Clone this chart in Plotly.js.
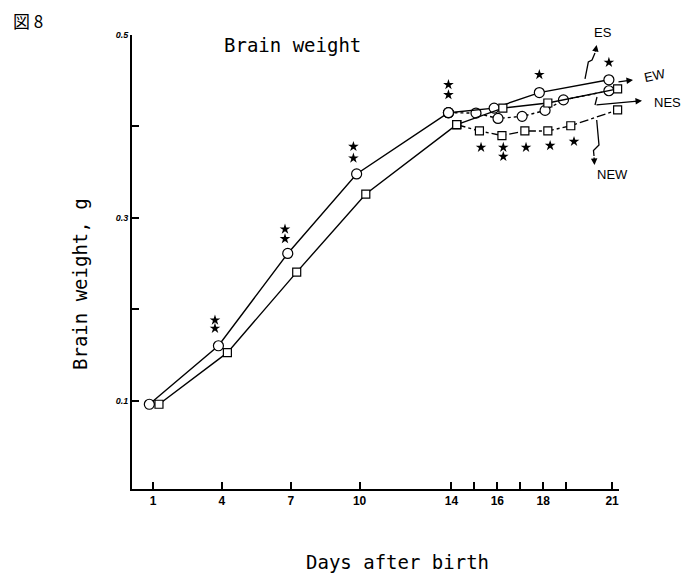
<!DOCTYPE html>
<html>
<head>
<meta charset="utf-8">
<script src="https://cdn.plot.ly/plotly-3.0.1.min.js"></script>
<style>html,body{margin:0;padding:0;background:#fff;}#chart{width:682px;height:580px;}</style>
</head>
<body>
<div id="chart"></div>
<script>
// ---- data (days after birth, brain weight in g) ----
const eDays    = [0.84, 3.85, 6.87, 9.87, 13.87];
const eWeight  = [0.096, 0.160, 0.261, 0.348, 0.415];
const nDays    = [1.26, 4.24, 7.26, 10.27, 14.23];
const nWeight  = [0.096, 0.1525, 0.2406, 0.326, 0.402];

const esDays   = [13.87, 15.86, 17.83, 20.86];
const esWeight = [0.415, 0.420, 0.437, 0.451];
const ewDays   = [13.87, 15.07, 16.03, 17.08, 18.08, 18.88, 20.86];
const ewWeight = [0.415, 0.4146, 0.4087, 0.411, 0.4175, 0.429, 0.439];

const nesDays   = [14.23, 16.24, 18.2, 21.24];
const nesWeight = [0.402, 0.420, 0.4256, 0.441];
const newDays   = [14.23, 15.22, 16.2, 17.2, 18.2, 19.2, 21.24];
const newWeight = [0.402, 0.395, 0.390, 0.395, 0.395, 0.4007, 0.418];

const starDays = [3.7, 3.7, 6.75, 6.75, 9.73, 9.73, 13.87, 13.87, 17.83, 20.86,
                  15.29, 16.26, 16.26, 17.25, 18.3, 19.34, 21.32];
const starY    = [0.188, 0.179, 0.2876, 0.277, 0.378, 0.3653, 0.4456, 0.4346, 0.4566, 0.470,
                  0.377, 0.377, 0.367, 0.377, 0.379, 0.3835, 0.400];

const xTickVals = [1, 4, 7, 10, 14, 15, 16, 17, 18, 19, 21];
const xTickText = ['1', '4', '7', '10', '14', '', '16', '', '18', '', '21'];
const yTickVals = [0.1, 0.2, 0.3, 0.4, 0.5];
const yTickText = ['0.1', '', '0.3', '', '0.5'];

// ---- layout helpers ----
const L = 132, T = 35, W = 487, H = 454;
const px = v => (v - L) / W;          // pixel x -> paper
const py = v => (T + H - v) / H;      // pixel y -> paper

function series(x, y, symbol, dash, size) {
  return {
    x: x, y: y, type: 'scatter', mode: 'lines+markers', cliponaxis: false,
    line: {color: '#000', width: 1.4, dash: dash},
    marker: {symbol: symbol, size: size, color: '#fff', line: {color: '#000', width: 1.2}},
    hoverinfo: 'skip', showlegend: false
  };
}

const traces = [
  series(eDays, eWeight, 'circle', 'solid', 10),
  series(nDays, nWeight, 'square', 'solid', 8),
  series(ewDays, ewWeight, 'circle', 'dot', 10),
  series(newDays, newWeight, 'square', 'dashdot', 8),
  series(esDays, esWeight, 'circle', 'solid', 10),
  series(nesDays, nesWeight, 'square', 'solid', 8),
  {
    x: starDays, y: starY, type: 'scatter', mode: 'markers', cliponaxis: false,
    marker: {symbol: 'star', size: 8, color: '#000'}, hoverinfo: 'skip', showlegend: false
  }
];

const lblFont = {family: 'Liberation Sans, Arial, sans-serif', size: 13, color: '#000'};
const monoFont = {family: 'DejaVu Sans Mono, monospace', size: 19, color: '#000'};

function arrow(hx, hy, tx, ty) {
  return {xref: 'paper', yref: 'paper', x: px(hx), y: py(hy), ax: tx - hx, ay: ty - hy,
          text: '', showarrow: true, arrowhead: 2, arrowsize: 1, arrowwidth: 1.3, arrowcolor: '#000'};
}
function label(text, x, y, angle) {
  return {xref: 'paper', yref: 'paper', x: px(x), y: py(y), text: text, showarrow: false,
          xanchor: 'center', yanchor: 'middle', font: lblFont, textangle: angle || 0};
}
function pathPx(pts) {
  return pts.map((p, i) => (i ? 'L' : 'M') + px(p[0]).toFixed(4) + ',' + py(p[1]).toFixed(4)).join(' ');
}

const layout = {
  width: 682, height: 580,
  margin: {l: L, r: 682 - L - W, t: T, b: 580 - T - H, pad: 0},
  paper_bgcolor: '#fff', plot_bgcolor: '#fff',
  title: {text: 'Brain weight', font: monoFont, x: 224 / 682, xanchor: 'left',
          y: 1 - 45 / 580, yanchor: 'middle', xref: 'container', yref: 'container'},
  xaxis: {
    range: [0.085, 21.3], showgrid: false, zeroline: false,
    showline: true, linecolor: '#000', linewidth: 2,
    ticks: 'inside', ticklen: 7, tickwidth: 2, tickcolor: '#000',
    tickmode: 'array', tickvals: xTickVals, ticktext: xTickText,
    tickfont: {family: 'Liberation Sans, Arial, sans-serif', size: 12, weight: 'bold', color: '#000'}
  },
  yaxis: {
    range: [0.0033, 0.5], showgrid: false, zeroline: false,
    showline: true, linecolor: '#000', linewidth: 2,
    ticks: 'inside', ticklen: 7, tickwidth: 2, tickcolor: '#000',
    tickmode: 'array', tickvals: yTickVals, ticktext: yTickText,
    tickfont: {family: 'Liberation Sans, Arial, sans-serif', size: 9, style: 'italic', weight: 'bold', color: '#000'}
  },
  annotations: [
    {xref: 'paper', yref: 'paper', x: px(80), y: py(284), text: 'Brain weight, g', textangle: -90,
     showarrow: false, xanchor: 'center', yanchor: 'middle', font: monoFont},
    {xref: 'paper', yref: 'paper', x: px(397), y: py(562), text: 'Days after birth',
     showarrow: false, xanchor: 'center', yanchor: 'middle', font: monoFont},
    {xref: 'paper', yref: 'paper', x: px(11), y: py(20), text: '図 8', showarrow: false,
     xanchor: 'left', yanchor: 'middle',
     font: {family: 'Noto Sans CJK JP, sans-serif', size: 17, color: '#000'}},
    label('ES', 603, 33),
    label('EW', 655, 75, -12),
    label('NES', 667, 102),
    label('NEW', 612, 175),
    arrow(633, 80, 617, 82),
    arrow(642, 100.7, 595, 105),
    arrow(596.7, 45, 595, 53),
    arrow(594.5, 165, 594, 156)
  ],
  shapes: [
    {type: 'path', xref: 'paper', yref: 'paper', line: {color: '#000', width: 1.3},
     path: pathPx([[585, 79], [588.3, 62], [592, 60], [595, 53]])},
    {type: 'path', xref: 'paper', yref: 'paper', line: {color: '#000', width: 1.3},
     path: pathPx([[597, 97], [595, 105]])},
    {type: 'path', xref: 'paper', yref: 'paper', line: {color: '#000', width: 1.3},
     path: pathPx([[596.7, 120], [599, 145], [593.5, 150.5], [594, 156]])}
  ]
};

Plotly.newPlot('chart', traces, layout, {displayModeBar: false, staticPlot: true});
</script>
</body>
</html>
